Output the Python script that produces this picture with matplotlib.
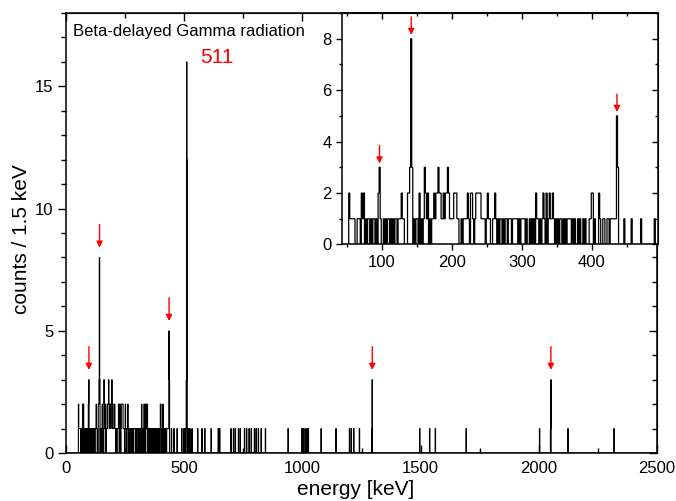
"""Beta-delayed gamma spectrum with low-energy inset."""

from __future__ import annotations

import matplotlib

matplotlib.use("Agg")

import matplotlib.pyplot as plt
import numpy as np
from matplotlib.ticker import MultipleLocator, NullFormatter

plt.rcParams["font.family"] = ["Liberation Sans", "DejaVu Sans"]

BIN_WIDTH = 1.5
E_MAX = 2500.5

# non-empty bins below ~520 keV (bin start in keV, counts)
energy_low = [
    52.5, 54, 55.5, 57, 58.5, 60,
    64.5, 66, 67.5, 70.5, 72, 73.5, 76.5, 79.5, 81, 84, 87, 88.5, 91.5,
    94.5, 96, 97.5,
    102, 105, 108, 109.5, 112.5, 115.5, 118.5, 120,
    123, 124.5, 126, 127.5, 129, 130.5,
    136.5, 138, 139.5, 141, 142.5, 145.5, 148.5, 150, 153, 156, 159,
    160.5, 162, 163.5, 165, 168,
    171, 172.5, 174, 175.5, 177, 178.5, 180, 181.5, 183, 184.5, 186, 187.5, 189,
    190.5, 192, 193.5, 195, 196.5, 198, 199.5, 201, 202.5, 204, 205.5, 207, 208.5,
    213, 216, 217.5, 219, 220.5, 222, 223.5, 226.5, 228, 229.5, 232.5, 234, 235.5,
    237, 238.5, 240, 241.5, 243, 244.5, 246, 249, 250.5, 252, 253.5,
    258, 259.5, 261, 262.5, 265.5, 268.5, 270, 273, 276, 277.5, 280.5, 282, 283.5,
    286.5, 288, 289.5, 291, 292.5, 295.5, 298.5, 300, 301.5, 303, 306,
    310.5, 313.5, 316.5, 319.5, 321, 322.5, 325.5, 328.5, 330, 331.5, 334.5, 337.5,
    339, 340.5, 342, 343.5, 345, 348, 351, 354, 355.5, 358.5,
    361.5, 364.5, 366, 367.5, 369, 372, 375, 379.5, 382.5, 387, 390, 396, 397.5,
    399, 400.5, 403.5, 409.5, 411, 415.5, 417, 421.5, 423, 426, 427.5, 429, 430.5,
    432, 433.5, 435, 436.5,
    445.5, 456, 469.5, 489, 498, 501, 504, 508.5, 510, 511.5, 513, 516,
]
counts_low = [
    2, 1, 1, 1, 1, 1,
    1, 1, 1, 2, 1, 2, 1, 1, 1, 1, 1, 1, 1,
    2, 3, 1,
    1, 1, 1, 1, 1, 1, 1, 1,
    1, 1, 1, 2, 1, 1,
    2, 2, 3, 8, 3, 1, 1, 1, 2, 1, 1,
    3, 2, 1, 2, 1,
    1, 1, 2, 1, 2, 2, 3, 2, 2, 1, 1, 2, 1,
    2, 2, 3, 2, 1, 1, 1, 1, 2, 2, 2, 1, 1,
    1, 1, 1, 1, 1, 2, 1, 2, 2, 1, 1, 2, 2,
    2, 2, 2, 1, 1, 1, 1, 1, 2, 1, 1,
    1, 1, 2, 1, 1, 1, 1, 1, 1, 1, 1, 1, 1,
    1, 1, 1, 1, 1, 1, 1, 1, 1, 1, 1,
    1, 1, 1, 2, 1, 1, 1, 1, 2, 1, 2, 1,
    2, 1, 1, 2, 1, 1, 1, 1, 1, 1,
    1, 1, 1, 1, 1, 1, 1, 1, 1, 1, 1, 1, 1,
    2, 2, 1, 2, 1, 1, 1, 1, 1, 1, 1, 1, 1,
    1, 1, 5, 3,
    1, 1, 1, 1, 1, 1, 1, 3, 16, 12, 1, 1,
]

# sparse bins above ~520 keV
energy_high = [
    523.5, 532.5, 556.5, 574.5, 586.5, 613.5, 643.5, 649.5, 697.5, 708, 715.5,
    729, 736.5, 754.5, 763.5, 774, 783, 796.5, 804, 813, 825, 843, 939,
    997.5, 1003.5, 1011, 1018.5, 1024.5, 1078.5, 1141.5, 1198.5, 1206, 1216.5,
    1240.5, 1293, 1294.5, 1495.5, 1537.5, 1561.5, 1692, 2002.5, 2049, 2050.5,
    2122.5, 2317.5,
]
counts_high = [
    1, 1, 1, 1, 1, 1, 1, 1, 1, 1, 1,
    1, 1, 1, 1, 1, 1, 1, 1, 1, 1, 1, 1,
    1, 1, 1, 1, 1, 1, 1, 1, 1, 1,
    1, 1, 3, 1, 1, 1, 1, 1, 1, 3,
    1, 1,
]

# marked lines
main_peak_energy = [97, 142, 436, 1295.5, 2051]
main_peak_counts = [3, 8, 5, 3, 3]
inset_peak_energy = [96.5, 141.8, 435.7]
inset_peak_counts = [3, 8, 5]


def _build_spectrum() -> tuple[np.ndarray, np.ndarray]:
    edges = np.arange(0, E_MAX + BIN_WIDTH, BIN_WIDTH)
    spectrum = np.zeros(len(edges) - 1)
    energy = np.array(energy_low + energy_high)
    counts = np.array(counts_low + counts_high)
    idx = np.round(energy / BIN_WIDTH).astype(int)
    spectrum[idx] = counts
    return edges, spectrum


def _style_axes(ax, x_major, x_minor, y_major, y_minor, bottom_dir, major_len, minor_len) -> None:
    ax.xaxis.set_major_locator(MultipleLocator(x_major))
    ax.xaxis.set_minor_locator(MultipleLocator(x_minor))
    ax.yaxis.set_major_locator(MultipleLocator(y_major))
    ax.yaxis.set_minor_locator(MultipleLocator(y_minor))
    ax.tick_params(which="both", width=1.0, labelsize=12)
    ax.tick_params(axis="y", which="both", direction="out")
    ax.tick_params(axis="x", which="both", direction=bottom_dir, pad=6 if bottom_dir == "in" else 3.5)
    ax.tick_params(which="major", length=major_len)
    ax.tick_params(which="minor", length=minor_len)
    for spine in ax.spines.values():
        spine.set_linewidth(1.1)

    top = ax.secondary_xaxis("top")
    top.xaxis.set_major_locator(MultipleLocator(x_major))
    top.xaxis.set_minor_locator(MultipleLocator(x_minor))
    top.xaxis.set_major_formatter(NullFormatter())
    top.tick_params(which="both", direction="in", width=1.0)
    top.tick_params(which="major", length=major_len)
    top.tick_params(which="minor", length=minor_len)

    right = ax.secondary_yaxis("right")
    right.yaxis.set_major_locator(MultipleLocator(y_major))
    right.yaxis.set_minor_locator(MultipleLocator(y_minor))
    right.yaxis.set_major_formatter(NullFormatter())
    right.tick_params(which="both", direction="in", width=1.0)
    right.tick_params(which="major", length=major_len)
    right.tick_params(which="minor", length=minor_len)


def _arrows(ax, energies, counts, tip_gap, tail_gap, scale) -> None:
    for e, c in zip(energies, counts):
        ax.annotate(
            "",
            xy=(e, c + tip_gap),
            xytext=(e, c + tail_gap),
            arrowprops=dict(arrowstyle="-|>", color="red", lw=1.0,
                            mutation_scale=scale, shrinkA=0, shrinkB=0),
        )


def main() -> None:
    edges, spectrum = _build_spectrum()

    fig = plt.figure(figsize=(6.76, 5.01), dpi=100)
    ax = fig.add_axes([0.0976, 0.0958, 0.8744, 0.8782])
    ax.stairs(spectrum, edges, baseline=0, color="black", linewidth=0.8)
    ax.set_xlim(0, 2500)
    ax.set_ylim(0, 18)
    _style_axes(ax, 500, 250, 5, 1, "in", 5.5, 3.5)
    ax.set_xlabel("energy [keV]", fontsize=15)
    ax.xaxis.set_label_coords(0.49, -0.062)
    ax.set_ylabel("counts / 1.5 keV", fontsize=15)
    ax.yaxis.set_label_coords(-0.06, 0.486)
    ax.text(0.012, 0.975, "Beta-delayed Gamma radiation", transform=ax.transAxes,
            ha="left", va="top", fontsize=12)
    ax.text(567, 16.2, "511", color="red", fontsize=15, ha="left", va="center")
    _arrows(ax, main_peak_energy, main_peak_counts, 0.4, 1.35, 9)

    ins = fig.add_axes([0.506, 0.512, 0.467, 0.462])
    ins.stairs(spectrum, edges, baseline=0, color="black", linewidth=0.9)
    ins.set_xlim(43, 494)
    ins.set_ylim(0, 9)
    _style_axes(ins, 100, 50, 2, 1, "out", 4, 2.5)
    _arrows(ins, inset_peak_energy, inset_peak_counts, 0.15, 0.85, 9)

    fig.savefig("out.png", dpi=100)
    plt.close(fig)


if __name__ == "__main__":
    main()
